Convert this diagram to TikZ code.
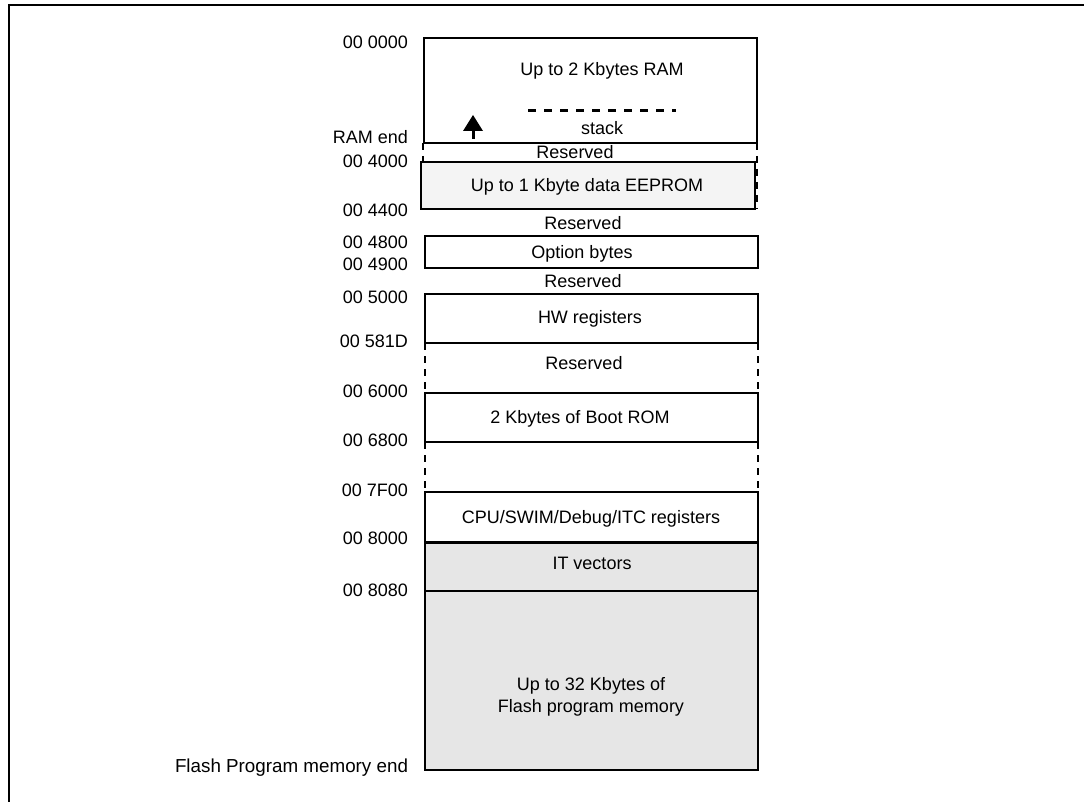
\documentclass[tikz,border=0pt]{standalone}
\usepackage{fontspec}
\setmainfont{Liberation Sans}
\definecolor{eepfill}{HTML}{F4F4F4}
\definecolor{flashfill}{HTML}{E6E6E6}
\begin{document}
\begin{tikzpicture}[x=1pt,y=-1pt,
  every node/.style={font=\fontsize{18}{22}\selectfont, inner sep=0pt, outer sep=0pt},
  txt/.style={text height=12.9pt, text depth=0pt},
  lbl/.style={txt, anchor=east},
  box/.style={draw, line width=2pt, minimum width=333pt},
  gap/.style={line width=2pt, dash pattern=on 7pt off 6pt}]
\useasboundingbox (0,0) rectangle (1084,802);
% frame
\draw[line width=2pt] (9,802) -- (9,5) -- (1084,5);

% reserved gap between RAM and EEPROM (dashed sides)
\coordinate (r1tl) at (423,143);
\coordinate (r1bl) at (423,209);
\coordinate (r1tr) at (757,143);
\coordinate (r1br) at (757,209);
\draw[gap] (r1tl) -- (r1bl);
\draw[gap] (r1tr) -- (r1br);

% boxes
\node[box, minimum height=105pt] (ram) at (590.5,90.5) {};
\node[box, fill=eepfill, minimum width=334pt, minimum height=47pt] (eep) at (588,185.5) {};
\node[box, minimum height=32pt] (opt) at (591.5,252) {};
\node[box, minimum height=49pt] (hw) at (591.5,318.5) {};
\node[box, minimum height=49pt] (boot) at (591.5,417.5) {};
\node[box, minimum height=50pt] (cpu) at (591.5,517) {};
\node[box, fill=flashfill, minimum height=49pt] (itv) at (591.5,566.5) {};
\node[box, fill=flashfill, minimum height=179pt] (flash) at (591.5,680.5) {};
\draw[line width=3pt] (cpu.south west) -- (cpu.south east);

% dashed reserved gaps
\draw[gap] (hw.south west) -- (boot.north west);
\draw[gap] (hw.south east) -- (boot.north east);
\draw[gap] (boot.south west) -- (cpu.north west);
\draw[gap] (boot.south east) -- (cpu.north east);

% stack marker and arrow
\coordinate (dsA) at (528,111);
\coordinate (dsB) at (676,111);
\draw[line width=3pt, dash pattern=on 8pt off 8pt] (dsA) -- (dsB);
\coordinate (arB) at (473,139);
\coordinate (arT) at (473,130);
\draw[line width=3pt] (arB) -- (arT);
\fill (463,131) -- (483,131) -- (473,115) -- cycle;

% texts inside
\node[txt] (tram) at (602,69) {Up to 2 Kbytes RAM};
\node[txt] (tstack) at (602,128) {stack};
\node[txt] (tres1) at (575,152) {Reserved};
\node[txt] (teep) at (587,185) {Up to 1 Kbyte data EEPROM};
\node[txt] (tres2) at (583,223) {Reserved};
\node[txt] (topt) at (582,252) {Option bytes};
\node[txt] (tres3) at (583,281) {Reserved};
\node[txt] (thw) at (590,317) {HW registers};
\node[txt] (tres4) at (584,363) {Reserved};
\node[txt] (tboot) at (580,417) {2 Kbytes of Boot ROM};
\node[txt] (tcpu) at (591,517) {CPU/SWIM/Debug/ITC registers};
\node[txt] (tit) at (592,563) {IT vectors};
\node[align=center, font=\fontsize{18}{21.5}\selectfont] (tflash) at (591,697) {Up to 32 Kbytes of\\Flash program memory};

% address labels
\node[lbl] (a0) at (408,42) {00 0000};
\node[lbl] (aram) at (408,137) {RAM end};
\node[lbl] (a4000) at (408,161) {00 4000};
\node[lbl] (a4400) at (408,210) {00 4400};
\node[lbl] (a4800) at (408,242) {00 4800};
\node[lbl] (a4900) at (408,264) {00 4900};
\node[lbl] (a5000) at (408,297) {00 5000};
\node[lbl] (a581d) at (408,341) {00 581D};
\node[lbl] (a6000) at (408,391) {00 6000};
\node[lbl] (a6800) at (408,440) {00 6800};
\node[lbl] (a7f00) at (408,490) {00 7F00};
\node[lbl] (a8000) at (408,538) {00 8000};
\node[lbl] (a8080) at (408,590) {00 8080};
\node[lbl, font=\fontsize{18.8}{22}\selectfont] (aflash) at (408,766) {Flash Program memory end};
\end{tikzpicture}
\end{document}
